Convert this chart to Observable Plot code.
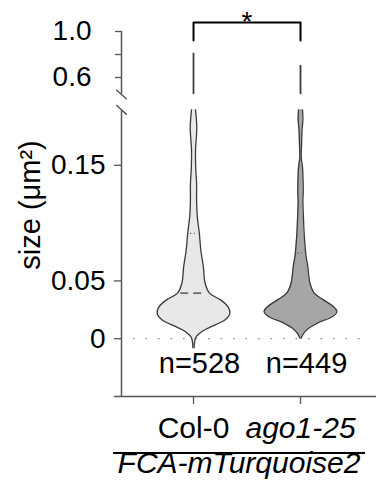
<!DOCTYPE html>
<html><head><meta charset="utf-8">
<script src="https://cdn.jsdelivr.net/npm/d3@7"></script>
<script src="https://cdn.jsdelivr.net/npm/@observablehq/plot@0.6"></script>
<style>
body{margin:0;background:#fff;}
#wrap{position:relative;width:376px;height:484px;font-family:"Liberation Sans",Arial,sans-serif;color:#000;}
#wrap svg{position:absolute;left:0;top:0;}
#group{position:absolute;left:113px;top:452px;width:252px;border-top:2px solid #000;text-align:center;font-style:italic;font-size:30px;line-height:18px;padding-top:0;white-space:nowrap;}
</style></head><body>
<div id="wrap"><div id="group"></div></div>
<script>
// ---- data ----
const groups = ["Col-0", "ago1-25"];
const groupPos = [1, 2];
const groupFill = ["#e8e8e8", "#a6a6a6"];
const nCounts = [528, 449];
const groupTitle = "FCA-mTurquoise2";
const yLabel = "size (\u03bcm\u00b2)";

// violin shape: y levels and relative density (1 = widest)
const col0Y = [-0.0078, -0.0009, 0.002, 0.0063, 0.0106, 0.0164, 0.0221, 0.0279, 0.0336, 0.0394, 0.048, 0.0623, 0.0767, 0.0911, 0.1054, 0.1198, 0.134, 0.148, 0.163, 0.183, 0.198];
const col0D = [0.015, 0.04, 0.08, 0.23, 0.50, 0.87, 1.00, 0.94, 0.74, 0.44, 0.32, 0.27, 0.20, 0.16, 0.105, 0.085, 0.085, 0.06, 0.055, 0.09, 0.055];
const agoY = [0.0004, 0.002, 0.0049, 0.0092, 0.0135, 0.0192, 0.0236, 0.0279, 0.0336, 0.0394, 0.048, 0.0623, 0.072, 0.0911, 0.1054, 0.12, 0.126, 0.137, 0.148, 0.157, 0.169, 0.18, 0.189, 0.198];
const agoD = [0.015, 0.04, 0.09, 0.23, 0.46, 0.88, 1.00, 0.90, 0.63, 0.38, 0.26, 0.20, 0.15, 0.10, 0.08, 0.065, 0.075, 0.07, 0.055, 0.02, 0.03, 0.04, 0.065, 0.055];
// upper (broken-axis) tails
const col0TopY = [0.46, 0.809];
const agoTopY = [0.46, 0.704];
const tailD = [0.006, 0.006];
// quartile lines
const col0Median = 0.0394;
const col0Q3 = 0.0911;
const agoQ3 = 0.074;

// axes
const lowerTicks = [0, 0.05, 0.15];
const lowerLabels = ["0", "0.05", "0.15"];
const upperTicks = [0.6, 0.8, 1.0];
const upperLabels = ["0.6", "", "1.0"];
const yDomain = [-0.05, 0.2, 0.44, 1.0];
const xDomain = [0.327, 2.71];
const lowerAxisTop = 0.197;
const upperAxisBottom = 0.455;
const breakYs = [0.452, 0.198];
const bracketTop = 1.078;
const bracketLeg = 0.922;
const sigLabel = "*";
const nLabelY = -0.030;

// ---- build ----
const maxHalf = 0.34;
function rows(name, pos, ys, ds, seg) {
  return ys.map((y, i) => ({name, pos, y, w: ds[i] * maxHalf, seg: name + seg}));
}
const violinRows = [
  ...rows(groups[0], groupPos[0], col0Y, col0D, "lo"),
  ...rows(groups[0], groupPos[0], col0TopY, tailD, "hi"),
  ...rows(groups[1], groupPos[1], agoY, agoD, "lo"),
  ...rows(groups[1], groupPos[1], agoTopY, tailD, "hi")
];
const col0W = d3.scaleLinear().domain(col0Y).range(col0D.map(d => d * maxHalf));
const agoW = d3.scaleLinear().domain(agoY).range(agoD.map(d => d * maxHalf));
const medLines = [{pos: groupPos[0], y: col0Median, w: col0W(col0Median)}];
const qLines = [
  {pos: groupPos[0], y: col0Q3, w: col0W(col0Q3)},
  {pos: groupPos[1], y: agoQ3, w: agoW(agoQ3)}
];
const bracket = [
  {x: groupPos[0], y: bracketLeg}, {x: groupPos[0], y: bracketTop},
  {x: groupPos[1], y: bracketTop}, {x: groupPos[1], y: bracketLeg}
];
const slash = {draw(ctx, size) { const r = Math.sqrt(size / Math.PI); ctx.moveTo(-1.1 * r, -r); ctx.lineTo(1.1 * r, r); }};
const outline = "#3a3a3a";
const axisGray = "#555";
const curve = "catmull-rom";

const chart = Plot.plot({
  width: 376,
  height: 452,
  marginLeft: 121,
  marginRight: 0,
  marginTop: 31,
  marginBottom: 56,
  style: {fontFamily: "Liberation Sans, Arial, sans-serif", fontSize: "28px", color: "#000", background: "#fff"},
  x: {type: "linear", domain: xDomain, axis: null},
  y: {type: "linear", domain: yDomain, range: [396, 107, 95.4, 31], axis: null},
  color: {domain: groups, range: groupFill},
  marks: [
    // zero dotted reference
    Plot.ruleY([0], {x1: 0.44, x2: 2.61, stroke: "#888", strokeDasharray: "1.5,11", strokeWidth: 1.2}),
    // violins
    Plot.areaX(violinRows, {y: "y", x1: d => d.pos - d.w, x2: d => d.pos + d.w, z: "seg", fill: "name", curve}),
    Plot.line(violinRows, {x: d => d.pos - d.w, y: "y", z: "seg", stroke: outline, strokeWidth: 1.3, curve}),
    Plot.line(violinRows, {x: d => d.pos + d.w, y: "y", z: "seg", stroke: outline, strokeWidth: 1.3, curve}),
    Plot.ruleY(medLines, {y: "y", x1: d => d.pos - d.w * 0.8, x2: d => d.pos + d.w * 0.6, stroke: outline, strokeWidth: 1.2, strokeDasharray: "8,5"}),
    Plot.ruleY(qLines, {y: "y", x1: d => d.pos - d.w * 0.5, x2: d => d.pos + d.w * 0.3, stroke: outline, strokeWidth: 1, strokeDasharray: "1.2,2.5"}),
    // axis lines
    Plot.ruleX([xDomain[0]], {y1: yDomain[0], y2: lowerAxisTop, stroke: axisGray, strokeWidth: 1.5}),
    Plot.ruleX([xDomain[0]], {y1: upperAxisBottom, y2: yDomain[3], stroke: axisGray, strokeWidth: 1.5}),
    Plot.ruleY([yDomain[0]], {x1: xDomain[0] - 0.065, x2: xDomain[1], stroke: axisGray, strokeWidth: 1.5}),
    Plot.dot(breakYs, {x: xDomain[0], y: d => d, symbol: slash, r: 4.8, stroke: axisGray, fill: "none", strokeWidth: 1.4}),
    // y axes
    Plot.axisY(lowerTicks, {anchor: "left", label: null, tickSize: 7, tickPadding: 9, tickFormat: d => lowerLabels[lowerTicks.indexOf(d)], stroke: axisGray, fill: "#000", fontSize: 28, strokeWidth: 1.3}),
    Plot.axisY(upperTicks, {anchor: "left", label: null, tickSize: 6, tickPadding: 24, tickFormat: d => upperLabels[upperTicks.indexOf(d)], stroke: axisGray, fill: "#000", fontSize: 28, strokeWidth: 1.3}),
    Plot.text([yLabel], {frameAnchor: "left", textAnchor: "middle", lineAnchor: "middle", rotate: -90, dx: -91, dy: -9, fontSize: 29, fill: "#000"}),
    // x axis
    Plot.axisX([groupPos[0]], {anchor: "bottom", label: null, tickSize: 8, tickPadding: 12, tickFormat: () => groups[0], stroke: axisGray, fill: "#000", fontSize: 30, strokeWidth: 1.3}),
    Plot.axisX([groupPos[1]], {anchor: "bottom", label: null, tickSize: 8, tickPadding: 12, tickFormat: () => groups[1], stroke: axisGray, fill: "#000", fontSize: 30, fontStyle: "italic", strokeWidth: 1.3}),
    // n labels
    Plot.text(groupPos, {x: d => d, y: nLabelY, text: (d, i) => "n=" + nCounts[i], lineAnchor: "bottom", dx: 6, fontSize: 29, fill: "#000"}),
    // significance bracket
    Plot.line(bracket, {x: "x", y: "y", stroke: "#000", strokeWidth: 2}),
    Plot.text([sigLabel], {x: (groupPos[0] + groupPos[1]) / 2, y: bracketTop, text: d => d, lineAnchor: "bottom", dy: 8, fontSize: 28, fill: "#000"})
  ]
});
const wrap = document.getElementById("wrap");
wrap.insertBefore(chart, wrap.firstChild);
document.getElementById("group").textContent = groupTitle;
</script>
</body></html>
